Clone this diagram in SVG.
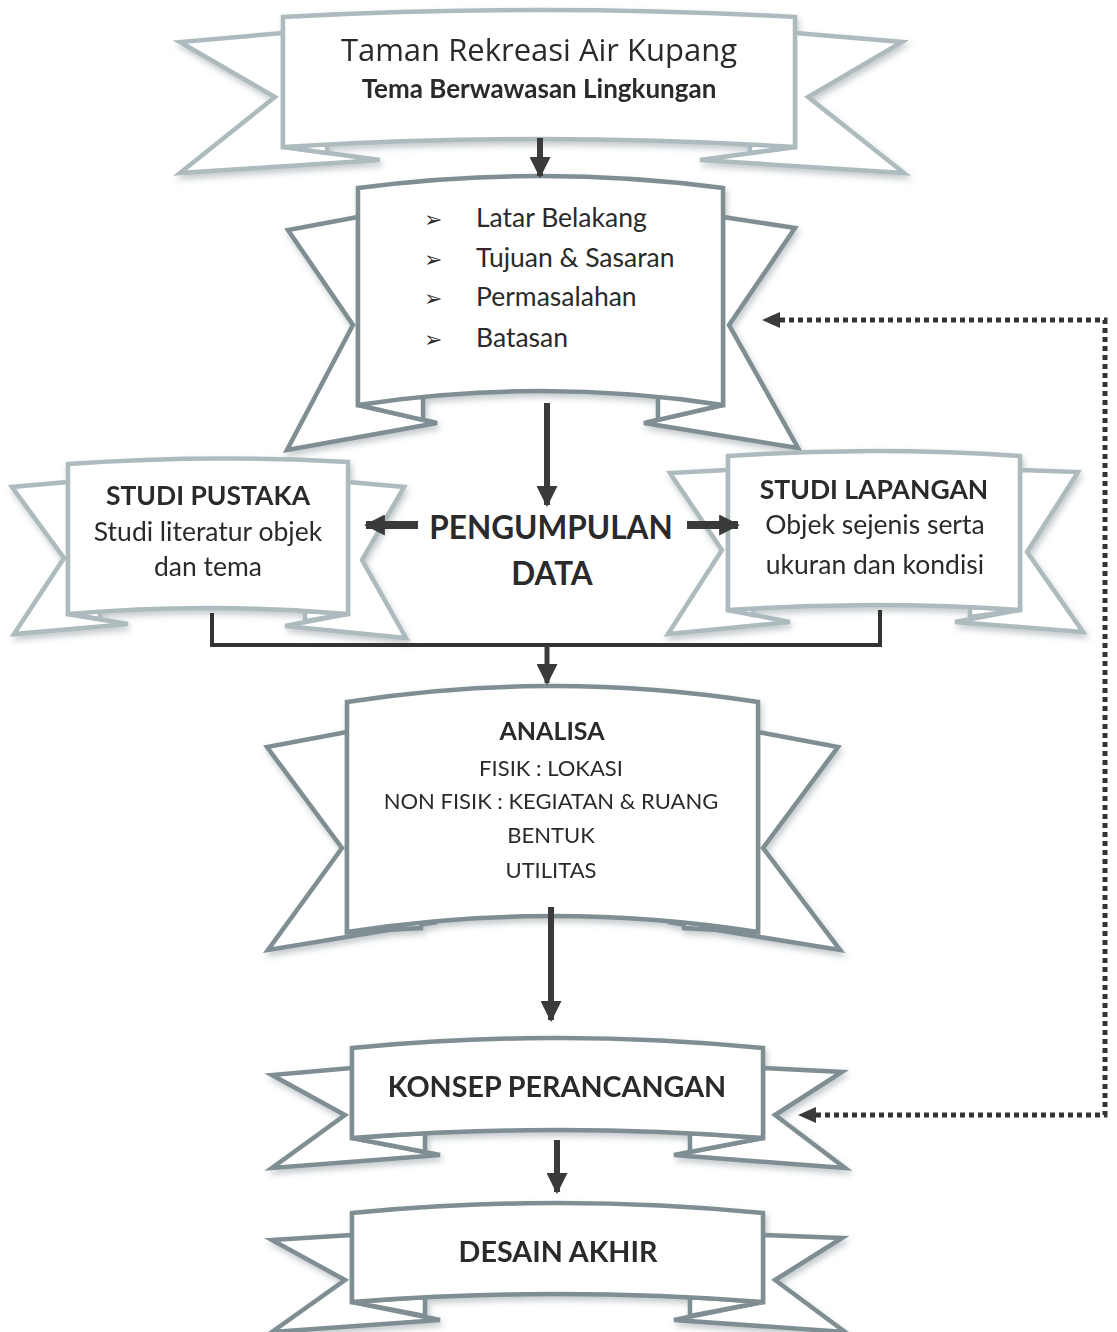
<svg xmlns="http://www.w3.org/2000/svg" width="1117" height="1332" viewBox="0 0 1117 1332">
<defs>
<filter id="sh" x="-10%" y="-10%" width="120%" height="130%">
<feDropShadow dx="2" dy="4" stdDeviation="3" flood-color="#7a8a90" flood-opacity="0.45"/>
</filter>
<marker id="ah" viewBox="0 0 10 10" refX="9" refY="5" markerWidth="21" markerHeight="21" orient="auto" markerUnits="userSpaceOnUse">
<path d="M0,0 L10,5 L0,10 Z" fill="#3a3a3a"/>
</marker>
</defs>
<style>
.rb path{fill:#fff;stroke-linejoin:miter}
.dk path{stroke:#7f8e93;stroke-width:4.5}
.lt path{stroke:#adbbbf;stroke-width:4.5}
.t{font-family:Lato,"Open Sans","Liberation Sans",sans-serif;fill:#2a2a2a;text-anchor:middle}
.s{text-anchor:start}
.b{font-weight:bold}
.ti{font-family:"Open Sans","Liberation Sans",sans-serif;fill:#2a2a2a;text-anchor:middle}
.ln{fill:none;stroke:#3a3a3a;stroke-width:6}
.sl{fill:none;stroke:#333;stroke-width:4}
.dot{fill:none;stroke:#333;stroke-width:5;stroke-dasharray:5 4}
.bl{font-family:"DejaVu Sans",sans-serif;fill:#333;font-size:22px}
</style>

<g id="title" class="rb lt" filter="url(#sh)">
<path d="M283,33 L180,42 L275,97 L180,173 L380,160 L283,147 Z"/>
<path d="M795,33 L902,42 L808,97 L904,173 L700,160 L795,147 Z"/>
<path d="M283,147 L327,143 L327,153 Z"/>
<path d="M795,147 L750,143 L750,153 Z"/>
<path d="M283,17 Q539,3 795,17 L795,147 Q539,131 283,147 Z"/>
<text class="ti" x="539" y="61" font-size="31">Taman Rekreasi Air Kupang</text>
<text class="t b" x="539" y="98" font-size="26">Tema Berwawasan Lingkungan</text>
</g>

<g id="latar" class="rb dk" filter="url(#sh)">
<path d="M358,217 L288,230 L353,325 L287,450 L437,423 L358,405 Z"/>
<path d="M723,217 L795,228 L729,325 L798,448 L644,423 L723,405 Z"/>
<path d="M358,405 L423,395 L423,420 Z"/>
<path d="M723,405 L658,395 L658,420 Z"/>
<path d="M358,188 Q540.5,164 723,188 L723,405 Q540.5,377 358,405 Z"/>
</g>
<g id="latar-text">
<text class="bl" x="424" y="227">➢</text>
<text class="bl" x="424" y="267">➢</text>
<text class="bl" x="424" y="306">➢</text>
<text class="bl" x="424" y="347">➢</text>
<text class="t s" x="476" y="227" font-size="26.5">Latar Belakang</text>
<text class="t s" x="476" y="267" font-size="26.5">Tujuan &amp; Sasaran</text>
<text class="t s" x="476" y="306" font-size="26.5">Permasalahan</text>
<text class="t s" x="476" y="347" font-size="26.5">Batasan</text>
</g>

<g id="pustaka" class="rb lt" filter="url(#sh)">
<path d="M68,482 L12,487 L64,558 L14,634 L128,624 L68,614 Z"/>
<path d="M348,482 L404,487 L362,560 L406,638 L285,626 L348,614 Z"/>
<path d="M68,614 L100,611 L100,619 Z"/>
<path d="M348,614 L305,611 L305,621 Z"/>
<path d="M68,464 Q208,454 348,462 L348,614 Q208,602 68,614 Z"/>
<text class="t b" x="208" y="505" font-size="26.5">STUDI PUSTAKA</text>
<text class="t" x="208" y="541" font-size="26.5">Studi literatur objek</text>
<text class="t" x="208" y="576" font-size="26.5">dan tema</text>
</g>

<g id="lapangan" class="rb lt" filter="url(#sh)">
<path d="M728,470 L670,473 L722,550 L668,634 L790,622 L728,610 Z"/>
<path d="M1020,470 L1078,472 L1027,552 L1083,632 L955,622 L1020,610 Z"/>
<path d="M728,610 L753,607 L753,615 Z"/>
<path d="M1020,610 L970,607 L970,617 Z"/>
<path d="M728,456 Q874,446 1020,456 L1020,610 Q874,600 728,610 Z"/>
<text class="t b" x="874" y="499" font-size="26.5">STUDI LAPANGAN</text>
<text class="t" x="875" y="534" font-size="26.5">Objek sejenis serta</text>
<text class="t" x="875" y="574" font-size="26.5">ukuran dan kondisi</text>
</g>

<g id="pengumpulan">
<text class="t b" x="551" y="539" font-size="31.5">PENGUMPULAN</text>
<text class="t b" x="552" y="585" font-size="31.5">DATA</text>
</g>

<g id="analisa" class="rb dk" filter="url(#sh)">
<path d="M347,732 L267,747 L342,848 L268,950 L437,922 L347,932 Z"/>
<path d="M758,732 L838,747 L763,848 L840,950 L668,922 L758,932 Z"/>
<path d="M347,932 L421,922 L421,928 Z"/>
<path d="M758,932 L684,922 L684,928 Z"/>
<path d="M347,702 Q552.5,670 758,702 L758,932 Q552.5,900 347,932 Z"/>
<text class="t b" x="552" y="740" font-size="25">ANALISA</text>
<text class="t" x="551" y="776" font-size="22">FISIK : LOKASI</text>
<text class="t" x="551" y="809" font-size="22">NON FISIK : KEGIATAN &amp; RUANG</text>
<text class="t" x="551" y="843" font-size="22">BENTUK</text>
<text class="t" x="551" y="878" font-size="22">UTILITAS</text>
</g>

<g id="konsep" class="rb dk" filter="url(#sh)">
<path d="M352,1068 L272,1075 L345,1115 L272,1168 L440,1155 L352,1138 Z"/>
<path d="M763,1068 L842,1072 L775,1115 L845,1168 L674,1155 L763,1138 Z"/>
<path d="M352,1138 L425,1133 L425,1152 Z"/>
<path d="M763,1138 L690,1133 L690,1152 Z"/>
<path d="M352,1048 Q557.5,1028 763,1048 L763,1138 Q557.5,1122 352,1138 Z"/>
<text class="t b" x="557" y="1097" font-size="28.7">KONSEP PERANCANGAN</text>
</g>

<g id="desain" class="rb dk" filter="url(#sh)">
<path d="M352,1235 L272,1240 L345,1280 L272,1332 L440,1320 L352,1302 Z"/>
<path d="M763,1235 L842,1238 L775,1280 L845,1332 L674,1320 L763,1302 Z"/>
<path d="M352,1302 L425,1297 L425,1316 Z"/>
<path d="M763,1302 L690,1297 L690,1316 Z"/>
<path d="M352,1213 Q557.5,1193 763,1213 L763,1302 Q557.5,1286 352,1302 Z"/>
<text class="t b" x="558" y="1262" font-size="28.7">DESAIN AKHIR</text>
</g>

<g id="connectors">
<path class="ln" d="M540,138 V176" marker-end="url(#ah)"/>
<path class="ln" d="M547,403 V505" marker-end="url(#ah)"/>
<path class="ln" style="stroke-width:8" d="M418,525 H366" marker-end="url(#ah)"/>
<path class="ln" style="stroke-width:8" d="M687,525 H738" marker-end="url(#ah)"/>
<path class="sl" d="M212,613 V645 H880 V610"/>
<path class="ln" style="stroke-width:5" d="M547,645 V683" marker-end="url(#ah)"/>
<path class="ln" d="M551,907 V1020" marker-end="url(#ah)"/>
<path class="ln" d="M557,1140 V1192" marker-end="url(#ah)"/>
<path class="dot" d="M780,320 H1105 V1115 H816"/>
<path d="M762,320 L780,312 L780,328 Z" fill="#3a3a3a"/>
<path d="M798,1115 L816,1107 L816,1123 Z" fill="#3a3a3a"/>
</g>
</svg>
